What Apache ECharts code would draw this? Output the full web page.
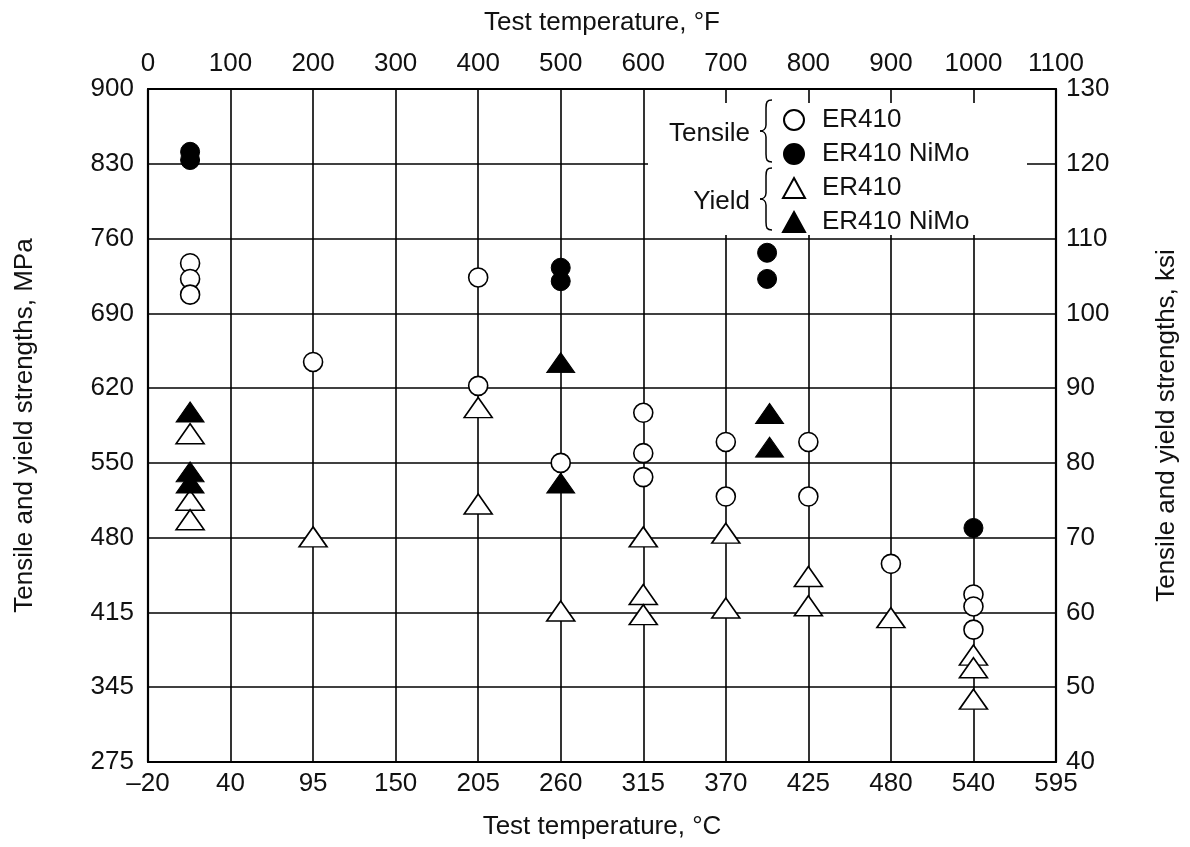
<!DOCTYPE html>
<html>
<head>
<meta charset="utf-8">
<title>Tensile and yield strengths vs test temperature</title>
<script src="https://cdn.jsdelivr.net/npm/echarts@6/dist/echarts.min.js"></script>
<style>
    html, body { margin: 0; padding: 0; background: #fff; }
    #chart { width: 1190px; height: 847px; }
</style>
</head>
<body>
<div id="chart"></div>
<script>
// tick labels (plot is laid out in degF / ksi, bottom and left show the metric values)
var fahrenheitTicks = ['0', '100', '200', '300', '400', '500', '600', '700', '800', '900', '1000', '1100'];
var celsiusTicks = ['\u201320', '40', '95', '150', '205', '260', '315', '370', '425', '480', '540', '595'];
var mpaTicks = ['275', '345', '415', '480', '550', '620', '690', '760', '830', '900'];
var ksiTicks = ['40', '50', '60', '70', '80', '90', '100', '110', '120', '130'];

// [temperature degF, strength ksi]
var tensileEr410 = [
    [51, 106.7], [51, 104.6], [51, 102.5],
    [200, 93.5],
    [400, 104.8], [400, 90.3],
    [500, 80.0],
    [600, 86.7], [600, 81.3], [600, 78.1],
    [700, 82.8], [700, 75.5],
    [800, 82.8], [800, 75.5],
    [900, 66.5],
    [1000, 62.4], [1000, 60.8], [1000, 57.7]
];
var tensileNiMo = [
    [51, 121.6], [51, 120.5],
    [500, 106.1], [500, 104.3],
    [750, 108.1], [750, 104.6],
    [1000, 71.3]
];
var yieldEr410 = [
    [51, 83.9], [51, 75.0], [51, 72.4],
    [200, 70.1],
    [400, 87.4], [400, 74.5],
    [500, 60.2],
    [600, 70.1], [600, 62.4], [600, 59.7],
    [700, 70.6], [700, 60.6],
    [800, 64.8], [800, 60.9],
    [900, 59.3],
    [1000, 54.3], [1000, 52.6], [1000, 48.4]
];
var yieldNiMo = [
    [51, 86.8], [51, 78.8], [51, 77.3],
    [500, 93.4], [500, 77.3],
    [753, 86.6], [753, 82.1]
];

var font = '"Liberation Sans", Arial, Helvetica, sans-serif';
var ink = '#111';

var chart = echarts.init(document.getElementById('chart'));

var label = { color: ink, fontFamily: font, fontSize: 26 };
var nameStyle = { color: ink, fontFamily: font, fontSize: 26 };
var frame = { show: true, onZero: false, lineStyle: { color: '#000', width: 2.2 } };
var grid = { show: true, lineStyle: { color: '#000', width: 1.6 } };

function openSymbol(name, symbol, size, data) {
    return {
        name: name, type: 'scatter', symbol: symbol, symbolSize: size, data: data,
        itemStyle: { color: '#fff', borderColor: '#000', borderWidth: 1.6, opacity: 1 }
    };
}
function filledSymbol(name, symbol, size, data) {
    return {
        name: name, type: 'scatter', symbol: symbol, symbolSize: size, data: data,
        itemStyle: { color: '#000', borderColor: '#000', borderWidth: 1, opacity: 1 }
    };
}

// curly brace "{" made of curves, tip at x, spanning top..top+h
function brace(x, top, h) {
    var s = { stroke: '#000', lineWidth: 1.5, fill: null };
    var sp = x + 6, end = x + 12, mid = top + h / 2;
    return [
        { type: 'bezierCurve', z: 5, shape: { x1: end, y1: top, cpx1: sp + 1, cpy1: top, cpx2: sp, cpy2: top + 2, x2: sp, y2: top + 8 }, style: s },
        { type: 'line', z: 5, shape: { x1: sp, y1: top + 8, x2: sp, y2: mid - 6 }, style: s },
        { type: 'bezierCurve', z: 5, shape: { x1: sp, y1: mid - 6, cpx1: sp, cpy1: mid - 2, cpx2: x + 3, cpy2: mid, x2: x, y2: mid }, style: s },
        { type: 'bezierCurve', z: 5, shape: { x1: x, y1: mid, cpx1: x + 3, cpy1: mid, cpx2: sp, cpy2: mid + 2, x2: sp, y2: mid + 6 }, style: s },
        { type: 'line', z: 5, shape: { x1: sp, y1: mid + 6, x2: sp, y2: top + h - 8 }, style: s },
        { type: 'bezierCurve', z: 5, shape: { x1: sp, y1: top + h - 8, cpx1: sp, cpy1: top + h - 2, cpx2: sp + 1, cpy2: top + h, x2: end, y2: top + h }, style: s }
    ];
}

var option = {
    backgroundColor: '#fff',
    animation: false,
    grid: { left: 148, right: 134, top: 89, bottom: 85 },
    legend: {
        orient: 'vertical',
        left: 777,
        top: 102,
        itemWidth: 22,
        itemHeight: 20,
        itemGap: 8,
        textStyle: { color: ink, fontFamily: font, fontSize: 26, lineHeight: 26, padding: [0, 0, 0, 12] },
        formatter: function (name) { return name.replace(/^(Tensile|Yield) /, ''); },
        data: ['Tensile ER410', 'Tensile ER410 NiMo', 'Yield ER410', 'Yield ER410 NiMo']
    },
    xAxis: [
        {
            type: 'value', position: 'bottom', min: 0, max: 1100, interval: 100,
            name: 'Test temperature, \u00b0C', nameLocation: 'middle', nameGap: 52, nameTextStyle: nameStyle,
            axisLine: frame, axisTick: { show: false }, splitLine: grid,
            axisLabel: Object.assign({ margin: 9, formatter: function (v) { return celsiusTicks[Math.round(v / 100)]; } }, label)
        },
        {
            type: 'value', position: 'top', min: 0, max: 1100, interval: 100,
            name: 'Test temperature, \u00b0F', nameLocation: 'middle', nameGap: 53, nameTextStyle: nameStyle,
            axisLine: frame, axisTick: { show: false }, splitLine: { show: false },
            axisLabel: Object.assign({ margin: 12, formatter: function (v) { return fahrenheitTicks[Math.round(v / 100)]; } }, label)
        }
    ],
    yAxis: [
        {
            type: 'value', position: 'left', min: 40, max: 130, interval: 10,
            name: 'Tensile and yield strengths, MPa', nameLocation: 'middle', nameRotate: 90, nameGap: 110, nameTextStyle: nameStyle,
            axisLine: frame, axisTick: { show: false }, splitLine: grid,
            axisLabel: Object.assign({ margin: 14, formatter: function (v) { return mpaTicks[Math.round((v - 40) / 10)]; } }, label)
        },
        {
            type: 'value', position: 'right', min: 40, max: 130, interval: 10,
            name: 'Tensile and yield strengths, ksi', nameLocation: 'middle', nameRotate: 90, nameGap: 98, nameTextStyle: nameStyle,
            axisLine: frame, axisTick: { show: false }, splitLine: { show: false },
            axisLabel: Object.assign({ margin: 10, formatter: function (v) { return ksiTicks[Math.round((v - 40) / 10)]; } }, label)
        }
    ],
    graphic: [
        // white key box that blanks the grid behind the legend
        { type: 'rect', z: 1, shape: { x: 648, y: 103, width: 379, height: 132 }, style: { fill: '#fff' } },
        { type: 'text', z: 5, x: 750, y: 134, style: { text: 'Tensile', fill: ink, font: '26px ' + font, align: 'right', verticalAlign: 'middle' } },
        { type: 'text', z: 5, x: 750, y: 202, style: { text: 'Yield', fill: ink, font: '26px ' + font, align: 'right', verticalAlign: 'middle' } }
    ].concat(brace(760, 100, 62), brace(760, 168, 62)),
    series: [
        openSymbol('Tensile ER410', 'circle', 19, tensileEr410),
        filledSymbol('Tensile ER410 NiMo', 'circle', 19, tensileNiMo),
        openSymbol('Yield ER410', 'triangle', [28, 20], yieldEr410),
        filledSymbol('Yield ER410 NiMo', 'triangle', [28, 20], yieldNiMo)
    ]
};

chart.setOption(option);
</script>
</body>
</html>
